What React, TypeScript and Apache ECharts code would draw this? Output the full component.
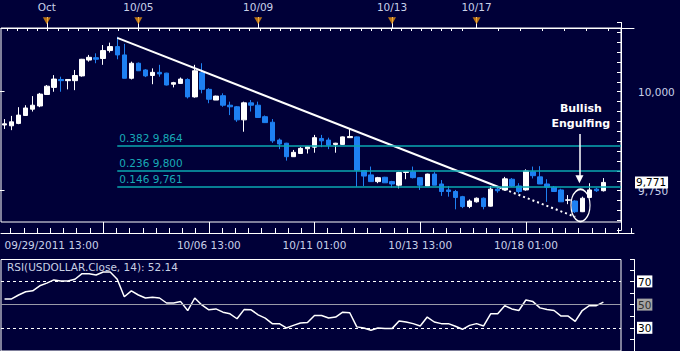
import React, { useEffect, useRef } from 'react';
import * as echarts from 'echarts';

const FONT = '"DejaVu Sans", Verdana, sans-serif';
const BG = '#000038';
const UP = '#ffffff';
const DOWN = '#1e80f2';
const FIB_LINE = '#0aa8b0';
const FIB_TEXT = '#18aab6';
const AXIS_TEXT = '#c8d0e8';

const categories = Array.from({ length: 88 }, (_, i) => String(i));

const opens = [9916, 9914, 9920, 9940, 9956, 9964, 9993, 10011, 10031, 10028, 10028, 10040, 10080, 10086, 10084, 10104, 10114, 10093, 10034, 10072, 10055, 10041, 10049, 10047, 10019, 10021, 10031, 9987, 10048, 10006, 9979, 9990, 9966, 9962, 9929, 9972, 9966, 9937, 9923, 9878, 9870, 9836, 9844, 9856, 9860, 9882, 9878, 9867, 9867, 9884, 9886, 9801, 9790, 9773, 9784, 9773, 9764, 9796, 9798, 9783, 9762, 9792, 9767, 9752, 9748, 9735, 9710, 9722, 9731, 9711, 9754, 9752, 9779, 9762, 9752, 9798, 9785, 9767, 9759, 9752, 9726, 9724, 9697, 9733, 9754, 9750];
const closes = [9919, 9924, 9941, 9959, 9966, 9994, 10014, 10032, 10028, 10031, 10041, 10082, 10087, 10082, 10104, 10114, 10093, 10034, 10072, 10053, 10040, 10049, 10045, 10017, 10023, 10032, 9987, 10053, 10006, 9981, 9989, 9966, 9962, 9929, 9972, 9966, 9935, 9922, 9876, 9868, 9836, 9847, 9857, 9861, 9884, 9876, 9865, 9870, 9886, 9887, 9802, 9787, 9773, 9783, 9770, 9767, 9796, 9798, 9783, 9764, 9792, 9764, 9748, 9748, 9733, 9710, 9724, 9731, 9710, 9754, 9750, 9780, 9762, 9748, 9800, 9788, 9767, 9759, 9748, 9722, 9727, 9697, 9731, 9752, 9750, 9771];
const lows = [9906, 9903, 9918, 9939, 9950, 9961, 9992, 10000, 10000, 10006, 10004, 10038, 10076, 10072, 10068, 10099, 10082, 10034, 10031, 10053, 10037, 10019, 10038, 10016, 10011, 10020, 9983, 9985, 9996, 9971, 9979, 9962, 9941, 9924, 9899, 9950, 9935, 9921, 9871, 9855, 9826, 9836, 9844, 9844, 9846, 9860, 9855, 9846, 9866, 9884, 9760, 9762, 9773, 9769, 9770, 9758, 9756, 9779, 9781, 9752, 9762, 9764, 9737, 9735, 9703, 9706, 9706, 9720, 9703, 9710, 9745, 9750, 9760, 9743, 9750, 9781, 9767, 9722, 9748, 9722, 9716, 9694, 9696, 9731, 9747, 9748];
const highs = [9931, 9939, 9961, 9966, 9989, 9997, 10017, 10042, 10038, 10032, 10055, 10083, 10093, 10097, 10118, 10124, 10139, 10121, 10076, 10074, 10057, 10059, 10068, 10048, 10025, 10036, 10034, 10068, 10072, 10009, 9990, 9996, 9975, 9964, 9975, 9979, 9975, 9940, 9931, 9882, 9871, 9853, 9860, 9863, 9891, 9891, 9884, 9871, 9887, 9906, 9887, 9802, 9811, 9785, 9785, 9775, 9798, 9799, 9811, 9784, 9793, 9797, 9777, 9762, 9752, 9737, 9728, 9733, 9733, 9762, 9760, 9785, 9782, 9769, 9804, 9811, 9812, 9779, 9762, 9755, 9739, 9726, 9735, 9769, 9757, 9782];

const rsi = [54.9, 54.9, 58.3, 61.1, 61.9, 66.2, 68.5, 71.3, 70.4, 70.4, 71.9, 76.7, 76.7, 75.5, 78.1, 78.1, 71.9, 56.8, 61.9, 58.3, 55.7, 56.3, 55.7, 51.4, 51.4, 52.6, 44.9, 55.7, 49.7, 45.5, 46.3, 43.5, 42.1, 37.8, 45.7, 45.5, 41.2, 38.4, 33.6, 33.6, 29.9, 32.1, 34.2, 34.5, 40.6, 40.6, 38.4, 39.3, 43.5, 43.0, 30.8, 29.9, 27.9, 29.9, 29.3, 29.3, 35.9, 35.0, 33.6, 31.6, 39.3, 35.0, 33.6, 33.6, 31.3, 28.7, 32.1, 33.6, 31.6, 42.1, 42.1, 49.1, 46.3, 44.9, 54.0, 52.6, 47.2, 45.7, 44.9, 40.1, 40.1, 35.5, 44.9, 49.1, 49.1, 52.14];

const eventIdx = [6, 19, 36, 55, 67];
const eventLabels = ['Oct', '10/05', '10/09', '10/13', '10/17'];
const majorTickIdx = [14, 29, 44, 59, 74];
const timeLabelIdx = [0, 29, 44, 59, 74];
const timeLabels = ['09/29/2011 13:00', '10/06 13:00', '10/11 01:00', '10/13 13:00', '10/18 01:00'];
const priceLabels = [9750, 10000];
const rsiLabels = [30, 50, 70];
const rsiLevels = [70, 50, 30];
const fibRatios = [0.382, 0.236, 0.146];
const fibPrices = [9864, 9800, 9761];
const fibStartIdx = 16;
const trendPts = [[16, 10136], [70.3, 9758], [81, 9684]];
const arrowPts = [[81.6, 9893], [81.6, 9779]];
const engulfCenter = [81.75, 9713];
const noteAnchor = [81.8, 9939];
const noteText = 'Bullish\nEngulfing';

const yMin = 9671;
const yMax = 10161;
const rsiMin = 10;
const rsiMax = 88.9;

function buildOption() {
  const candleData = opens.map((o, i) => [o, closes[i], lows[i], highs[i]]);
  const lastClose = closes[closes.length - 1];
  const fmt = (v: number) => v.toLocaleString('en-US');

  const topRulerTicks: number[] = [];
  for (let v = 6.3; v < 470; v += 10.1) topRulerTicks.push(v);
  for (let v = 497; v < 620; v += 22) topRulerTicks.push(v);

  const bottomRulerTicks: number[] = [];
  for (let m = -1; m < 90; m += 15) {
    for (let k = 0; k < 8; k++) {
      const v = m + k * 1.875;
      if (v > -0.5 && v < 89.3) bottomRulerTicks.push(v);
    }
  }

  const xData = categories.map((c, i) => (i === 0 ? { value: c, textStyle: { align: 'left' } } : c));
  const white = { color: '#ffffff', width: 1 };

  const fibLines = fibPrices.map((p, i) => [
    {
      coord: [fibStartIdx, p],
      lineStyle: { color: FIB_LINE, width: 1.5, type: 'solid', opacity: 1 },
      label: {
        show: true,
        position: 'insideStartTop',
        formatter: `${fibRatios[i].toFixed(3)} ${fmt(p)}`,
        color: FIB_TEXT,
        fontSize: 10.5,
        fontFamily: FONT,
        distance: 2,
      },
    },
    { coord: [87.5, p] },
  ]);

  return {
    backgroundColor: BG,
    animation: false,
    textStyle: { fontFamily: FONT },
    title: {
      text: `RSI(USDOLLAR.Close, 14): ${rsi[rsi.length - 1].toFixed(2)}`,
      left: 7,
      top: 261,
      padding: 0,
      textStyle: { color: '#c8d0e4', fontSize: 10.5, fontWeight: 'normal', fontFamily: FONT },
    },
    grid: [
      { left: 1, top: 28, width: 620, height: 194, show: true, borderColor: '#ffffff', borderWidth: 1 },
      { left: 621, top: 22.46, width: 13, height: 207.85 },
      { left: 1, top: 17, width: 633, height: 11 },
      { left: 1, top: 222, width: 633, height: 11 },
      { left: 1, top: 259.5, width: 620, height: 92.7, show: true, borderColor: '#ffffff', borderWidth: 1 },
    ],
    xAxis: [
      {
        type: 'category', gridIndex: 0, data: xData, position: 'bottom', offset: 11, boundaryGap: true,
        axisLine: { show: false },
        axisTick: { show: true, inside: true, length: 11, alignWithLabel: true, interval: (i: number) => majorTickIdx.includes(i), lineStyle: white },
        axisLabel: {
          show: true, interval: (i: number) => timeLabelIdx.includes(i),
          formatter: (_v: string, i: number) => timeLabels[timeLabelIdx.indexOf(i)] || '',
          color: AXIS_TEXT, fontSize: 10.5, fontFamily: FONT, margin: 6,
        },
        splitLine: { show: false },
      },
      {
        type: 'category', gridIndex: 0, data: categories, position: 'top', offset: 11, boundaryGap: true,
        axisLine: { show: false },
        axisTick: { show: true, inside: true, length: 11, alignWithLabel: true, interval: (i: number) => eventIdx.includes(i), lineStyle: white },
        axisLabel: {
          show: true, interval: (i: number) => eventIdx.includes(i),
          formatter: (_v: string, i: number) => eventLabels[eventIdx.indexOf(i)] || '',
          color: AXIS_TEXT, fontSize: 10.5, fontFamily: FONT, margin: 5,
        },
        splitLine: { show: false },
      },
      { type: 'value', gridIndex: 0, min: -0.5, max: 87.5, show: false },
      {
        type: 'value', gridIndex: 2, position: 'top', min: 0, max: 633,
        axisLine: { show: true, lineStyle: white },
        axisTick: { show: true, inside: true, length: 3, customValues: topRulerTicks, lineStyle: white },
        axisLabel: { show: false }, splitLine: { show: false },
      },
      {
        type: 'value', gridIndex: 3, position: 'bottom', min: -0.5, max: 89.35,
        axisLine: { show: true, lineStyle: white },
        axisTick: { show: true, inside: true, length: 5, customValues: bottomRulerTicks, lineStyle: white },
        axisLabel: { show: false }, splitLine: { show: false },
      },
      { type: 'category', gridIndex: 4, data: categories, show: false, boundaryGap: true },
      { type: 'value', gridIndex: 1, min: 0, max: 1, show: false },
    ],
    yAxis: [
      {
        type: 'value', gridIndex: 0, position: 'right', offset: 13, min: yMin, max: yMax,
        axisLine: { show: false },
        axisTick: { show: true, inside: true, length: 13, customValues: priceLabels, lineStyle: white },
        axisLabel: { show: true, customValues: priceLabels, formatter: (v: number) => fmt(v), color: AXIS_TEXT, fontSize: 10.5, fontFamily: FONT, margin: 4 },
        splitLine: { show: false },
      },
      {
        type: 'value', gridIndex: 1, position: 'right', min: 9650, max: 10175, interval: 25,
        axisLine: { show: true, lineStyle: white },
        axisTick: { show: true, inside: true, length: 4, lineStyle: white },
        axisLabel: { show: false }, splitLine: { show: false },
      },
      { type: 'value', gridIndex: 2, show: false },
      { type: 'value', gridIndex: 3, show: false },
      {
        type: 'value', gridIndex: 4, position: 'right', offset: 13, min: rsiMin, max: rsiMax, interval: 10,
        axisLine: { show: true, lineStyle: white },
        axisTick: { show: true, inside: true, length: 4, lineStyle: white },
        axisLabel: {
          show: true, margin: 3,
          formatter: (v: number) => (rsiLabels.includes(v) ? (v === 50 ? `{g|${v}}` : `{w|${v}}`) : ''),
          rich: {
            w: { backgroundColor: '#ffffff', color: '#000000', padding: [1, 1, 0, 1], fontSize: 10.5, fontFamily: FONT },
            g: { backgroundColor: '#a4a4a4', color: '#303030', padding: [1, 1, 0, 1], fontSize: 10.5, fontFamily: FONT },
          },
        },
        splitLine: { show: false },
      },
    ],
    series: [
      {
        type: 'candlestick', xAxisIndex: 0, yAxisIndex: 0, data: candleData, barWidth: 5,
        itemStyle: { color: UP, color0: DOWN, borderColor: UP, borderColor0: DOWN, borderWidth: 1 },
        markLine: {
          silent: true, symbol: 'none', animation: false, z: 10,
          data: [{
            yAxis: lastClose,
            lineStyle: { color: 'rgba(0,0,0,0)', width: 1 },
            label: {
              show: true, position: 'end', distance: 14, formatter: fmt(lastClose),
              backgroundColor: '#ffffff', color: '#000000', padding: [1, 2, 0, 1], fontSize: 10.5, fontFamily: FONT,
            },
          }],
        },
      },
      {
        type: 'line', xAxisIndex: 2, yAxisIndex: 0, data: [], symbol: 'none', silent: true,
        markLine: {
          silent: true, symbol: 'none', animation: false,
          label: { show: false },
          data: [
            [{ coord: trendPts[0], lineStyle: { color: '#ffffff', width: 2, type: 'solid' } }, { coord: trendPts[1] }],
            [{ coord: trendPts[1], lineStyle: { color: '#ffffff', width: 2, type: [2, 3] } }, { coord: trendPts[2] }],
            ...fibLines,
            [
              { coord: arrowPts[0], symbol: 'none', lineStyle: { color: '#ffffff', width: 1.5, type: 'solid' } },
              { coord: arrowPts[1], symbol: 'triangle', symbolSize: [8, 8] },
            ],
          ],
        },
        markPoint: {
          silent: true, animation: false,
          data: [
            {
              coord: engulfCenter, symbol: 'circle', symbolSize: [19, 32],
              itemStyle: { color: 'rgba(0,0,0,0)', borderColor: '#ffffff', borderWidth: 1.5 },
              label: { show: false },
            },
            {
              coord: noteAnchor, symbol: 'circle', symbolSize: 1,
              itemStyle: { color: 'rgba(0,0,0,0)' },
              label: { show: true, position: 'inside', formatter: noteText, color: '#ffffff', fontWeight: 'bold', fontSize: 11, lineHeight: 15, fontFamily: FONT },
            },
          ],
        },
      },
      {
        type: 'scatter', xAxisIndex: 1, yAxisIndex: 0, clip: false, silent: true,
        data: eventIdx.map((i) => [i, yMax + 18]),
        symbol: 'triangle', symbolRotate: 180, symbolSize: [8, 7],
        itemStyle: { color: '#e8920c' },
      },
      {
        type: 'line', xAxisIndex: 5, yAxisIndex: 4, data: rsi, symbol: 'none', silent: true,
        lineStyle: { color: '#ffffff', width: 1.5 },
        markLine: {
          silent: true, symbol: 'none', animation: false, label: { show: false },
          data: rsiLevels.map((lv) => ({
            yAxis: lv,
            lineStyle: lv === 50 ? { color: '#9a9aa8', width: 1, type: 'solid' } : { color: '#ffffff', width: 1, type: [3, 3] },
          })),
        },
      },
    ],
  };
}

export default function App() {
  const ref = useRef<HTMLDivElement>(null);
  useEffect(() => {
    if (!ref.current) return;
    const chart = echarts.init(ref.current, undefined, { renderer: 'svg' });
    chart.setOption(buildOption() as any);
    return () => chart.dispose();
  }, []);
  return <div ref={ref} style={{ position: 'fixed', left: 0, top: 0, width: 680, height: 351 }} />;
}
